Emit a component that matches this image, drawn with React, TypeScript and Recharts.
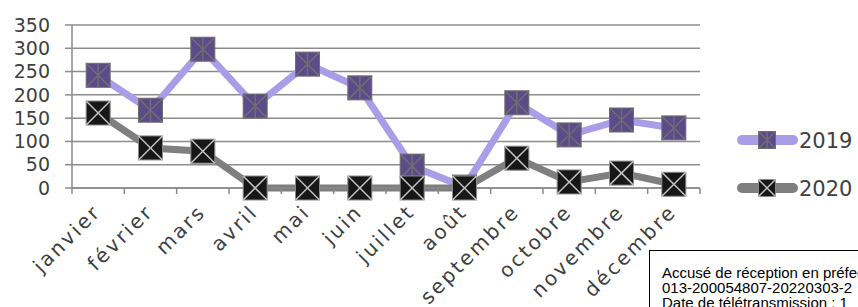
import React from "react";
import { LineChart, Line, XAxis, YAxis, CartesianGrid } from "recharts";

const months = ["janvier", "février", "mars", "avril", "mai", "juin", "juillet", "août", "septembre", "octobre", "novembre", "décembre"];
const values2019 = [242, 167, 298, 176, 266, 215, 47, 2, 183, 114, 146, 129];
const values2020 = [161, 86, 79, 0, 0, 0, 0, 0, 64, 13, 32, 8];
const yTicks = [0, 50, 100, 150, 200, 250, 300, 350];

const data = months.map((m, i) => ({ month: m, y2019: values2019[i], y2020: values2020[i] }));

const FONT = "'DejaVu Sans', sans-serif";
const PLOT_W = 628;
const BAND = PLOT_W / months.length;

const Dot2019 = (props: any) => {
  const { cx, cy, size = 24 } = props;
  if (cx == null || cy == null) return null;
  const h = size / 2;
  return (
    <g>
      <rect x={cx - h} y={cy - h} width={size} height={size} fill="#5b4b8a" stroke="#6f6f6f" strokeWidth={1} />
      <line x1={cx - h} y1={cy - h} x2={cx + h} y2={cy + h} stroke="#6f6f6f" strokeWidth={1.5} />
      <line x1={cx + h} y1={cy - h} x2={cx - h} y2={cy + h} stroke="#6f6f6f" strokeWidth={1.5} />
      <line x1={cx} y1={cy - h} x2={cx} y2={cy + h} stroke="#6f6f6f" strokeWidth={1.5} />
    </g>
  );
};

const Dot2020 = (props: any) => {
  const { cx, cy, size = 24 } = props;
  if (cx == null || cy == null) return null;
  const h = size / 2;
  return (
    <g>
      <rect x={cx - h} y={cy - h} width={size} height={size} fill="#171717" stroke="#8a8a8a" strokeWidth={1} />
      <line x1={cx - h} y1={cy - h} x2={cx + h} y2={cy + h} stroke="#c4c4c4" strokeWidth={1.5} />
      <line x1={cx + h} y1={cy - h} x2={cx - h} y2={cy + h} stroke="#c4c4c4" strokeWidth={1.5} />
    </g>
  );
};

const MonthTick = (props: any) => {
  const { x, y, payload, index } = props;
  const left = x - BAND / 2;
  const tx = x + 4;
  const ty = y + 25;
  return (
    <g>
      <line x1={left} y1={y} x2={left} y2={y + 6} stroke="#8a8a8a" strokeWidth={1.5} />
      {index === months.length - 1 && (
        <line x1={x + BAND / 2} y1={y} x2={x + BAND / 2} y2={y + 6} stroke="#8a8a8a" strokeWidth={1.5} />
      )}
      <text
        x={tx}
        y={ty}
        transform={`rotate(-45, ${tx}, ${ty})`}
        textAnchor="end"
        fontFamily={FONT}
        fontSize={20}
        letterSpacing={2.5}
        fill="#404040"
      >
        {payload.value}
      </text>
    </g>
  );
};

const series = [
  { label: "2019", color: "#a99de8", Dot: Dot2019 },
  { label: "2020", color: "#7f7f7f", Dot: Dot2020 },
];

const ChartLegend = () => (
  <svg width={125} height={80} style={{ position: "absolute", left: 730, top: 125 }}>
    {series.map((s, i) => {
      const cy = 15 + i * 48;
      const D = s.Dot;
      return (
        <g key={s.label}>
          <line x1={12} y1={cy} x2={63} y2={cy} stroke={s.color} strokeWidth={10} strokeLinecap="round" />
          <D cx={37} cy={cy} size={17} />
          <text x={69} y={cy} dy="0.36em" fontFamily={FONT} fontSize={21} fill="#404040">
            {s.label}
          </text>
        </g>
      );
    })}
  </svg>
);

export default function App() {
  return (
    <div style={{ position: "fixed", left: 0, top: 0, width: 858, height: 307, overflow: "hidden", background: "#fff" }}>
      <LineChart width={858} height={307} data={data} margin={{ top: 25, right: 158, bottom: 0, left: 0 }}>
        <CartesianGrid vertical={false} stroke="#8c8c8c" strokeWidth={1.5} />
        <XAxis
          dataKey="month"
          interval={0}
          height={119}
          padding={{ left: BAND / 2, right: BAND / 2 }}
          tickLine={false}
          tickSize={0}
          tickMargin={0}
          axisLine={{ stroke: "#8a8a8a", strokeWidth: 1.5 }}
          tick={<MonthTick />}
        />
        <YAxis
          width={72}
          domain={[0, 350]}
          ticks={yTicks}
          interval={0}
          tickLine={{ stroke: "#8c8c8c", strokeWidth: 1.5 }}
          tickSize={7}
          tickMargin={15}
          axisLine={{ stroke: "#8a8a8a", strokeWidth: 1.5 }}
          tick={{ fontFamily: FONT, fontSize: 19, fill: "#404040" }}
        />
        <Line
          type="linear"
          dataKey="y2019"
          stroke="#a99de8"
          strokeWidth={7}
          dot={<Dot2019 />}
          activeDot={false}
          isAnimationActive={false}
        />
        <Line
          type="linear"
          dataKey="y2020"
          stroke="#7f7f7f"
          strokeWidth={7}
          dot={<Dot2020 />}
          activeDot={false}
          isAnimationActive={false}
        />
      </LineChart>
      <ChartLegend />
      <div
        style={{
          position: "absolute",
          left: 649,
          top: 250,
          width: 260,
          height: 80,
          border: "1px solid #000",
          background: "#fff",
          fontFamily: "'Liberation Sans', Arial, sans-serif",
          fontSize: 15,
          lineHeight: "15px",
          color: "#000",
          padding: "14px 0 0 12px",
          boxSizing: "border-box",
          whiteSpace: "nowrap",
        }}
      >
        <div>Accusé de réception en préfecture</div>
        <div>013-200054807-20220303-2</div>
        <div>Date de télétransmission : 1</div>
      </div>
    </div>
  );
}
